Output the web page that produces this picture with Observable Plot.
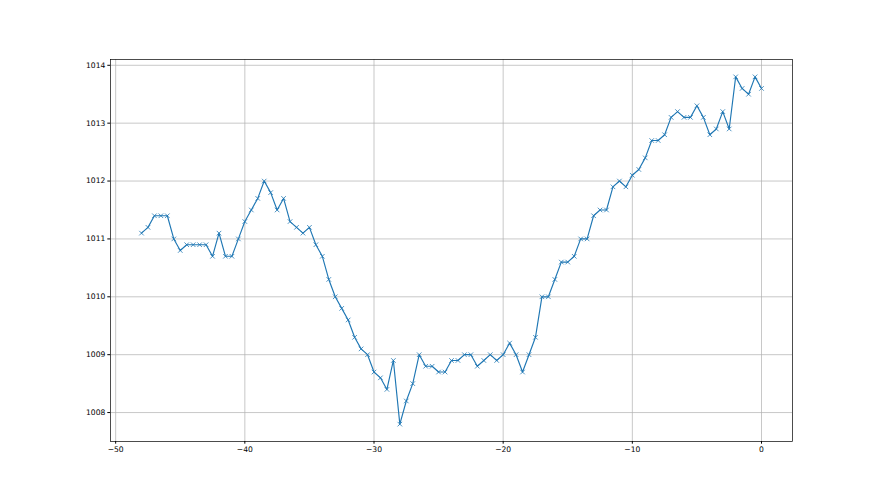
<!DOCTYPE html>
<html>
<head>
<meta charset="utf-8">
<script src="https://cdn.jsdelivr.net/npm/d3@7"></script>
<script src="https://cdn.jsdelivr.net/npm/@observablehq/plot@0.6"></script>
<style>
  html, body { margin: 0; padding: 0; background: #fff; }
  #chart svg { display: block; }
</style>
</head>
<body>
<div id="chart"></div>
<script>
const hours = [
  -48, -47.5, -47, -46.5, -46, -45.5, -45, -44.5, -44, -43.5,
  -43, -42.5, -42, -41.5, -41, -40.5, -40, -39.5, -39, -38.5,
  -38, -37.5, -37, -36.5, -36, -35.5, -35, -34.5, -34, -33.5,
  -33, -32.5, -32, -31.5, -31, -30.5, -30, -29.5, -29, -28.5,
  -28, -27.5, -27, -26.5, -26, -25.5, -25, -24.5, -24, -23.5,
  -23, -22.5, -22, -21.5, -21, -20.5, -20, -19.5, -19, -18.5,
  -18, -17.5, -17, -16.5, -16, -15.5, -15, -14.5, -14, -13.5,
  -13, -12.5, -12, -11.5, -11, -10.5, -10, -9.5, -9, -8.5,
  -8, -7.5, -7, -6.5, -6, -5.5, -5, -4.5, -4, -3.5,
  -3, -2.5, -2, -1.5, -1, -0.5, 0
];
const pressure = [
  1011.1, 1011.2, 1011.4, 1011.4, 1011.4, 1011.0, 1010.8, 1010.9, 1010.9, 1010.9,
  1010.9, 1010.7, 1011.1, 1010.7, 1010.7, 1011.0, 1011.3, 1011.5, 1011.7, 1012.0,
  1011.8, 1011.5, 1011.7, 1011.3, 1011.2, 1011.1, 1011.2, 1010.9, 1010.7, 1010.3,
  1010.0, 1009.8, 1009.6, 1009.3, 1009.1, 1009.0, 1008.7, 1008.6, 1008.4, 1008.9,
  1007.8, 1008.2, 1008.5, 1009.0, 1008.8, 1008.8, 1008.7, 1008.7, 1008.9, 1008.9,
  1009.0, 1009.0, 1008.8, 1008.9, 1009.0, 1008.9, 1009.0, 1009.2, 1009.0, 1008.7,
  1009.0, 1009.3, 1010.0, 1010.0, 1010.3, 1010.6, 1010.6, 1010.7, 1011.0, 1011.0,
  1011.4, 1011.5, 1011.5, 1011.9, 1012.0, 1011.9, 1012.1, 1012.2, 1012.4, 1012.7,
  1012.7, 1012.8, 1013.1, 1013.2, 1013.1, 1013.1, 1013.3, 1013.1, 1012.8, 1012.9,
  1013.2, 1012.9, 1013.8, 1013.6, 1013.5, 1013.8, 1013.6
];
const xTicks = [-50, -40, -30, -20, -10, 0];
const yTicks = [1008, 1009, 1010, 1011, 1012, 1013, 1014];

const data = hours.map((h, i) => ({h, p: pressure[i]}));
const fmt = d => d < 0 ? "\u2212" + Math.abs(d) : String(d);
const color = "#1f77b4";

const chart = Plot.plot({
  width: 880,
  height: 495,
  marginLeft: 110,
  marginRight: 88,
  marginTop: 59,
  marginBottom: 54,
  style: {fontFamily: "DejaVu Sans", fontSize: "7.6px", color: "#000", background: "#fff"},
  x: {domain: [-50.4, 2.4]},
  y: {domain: [1007.5, 1014.1]},
  marks: [
    Plot.gridX(xTicks, {stroke: "#b0b0b0", strokeOpacity: 1, strokeWidth: 0.7}),
    Plot.gridY(yTicks, {stroke: "#b0b0b0", strokeOpacity: 1, strokeWidth: 0.7}),
    Plot.line(data, {x: "h", y: "p", stroke: color, strokeWidth: 1.15}),
    Plot.dot(data, {x: "h", y: "p", symbol: "times", r: 2.2, stroke: color, strokeWidth: 0.8}),
    Plot.frame({stroke: "#000", strokeWidth: 0.7}),
    Plot.axisX(xTicks, {tickSize: 2.7, tickPadding: 2.5, tickFormat: fmt, label: null, stroke: "#000"}),
    Plot.axisY(yTicks, {tickSize: 2.7, tickPadding: 2.5, tickFormat: fmt, label: null, stroke: "#000"})
  ]
});
document.getElementById("chart").appendChild(chart);
</script>
</body>
</html>
